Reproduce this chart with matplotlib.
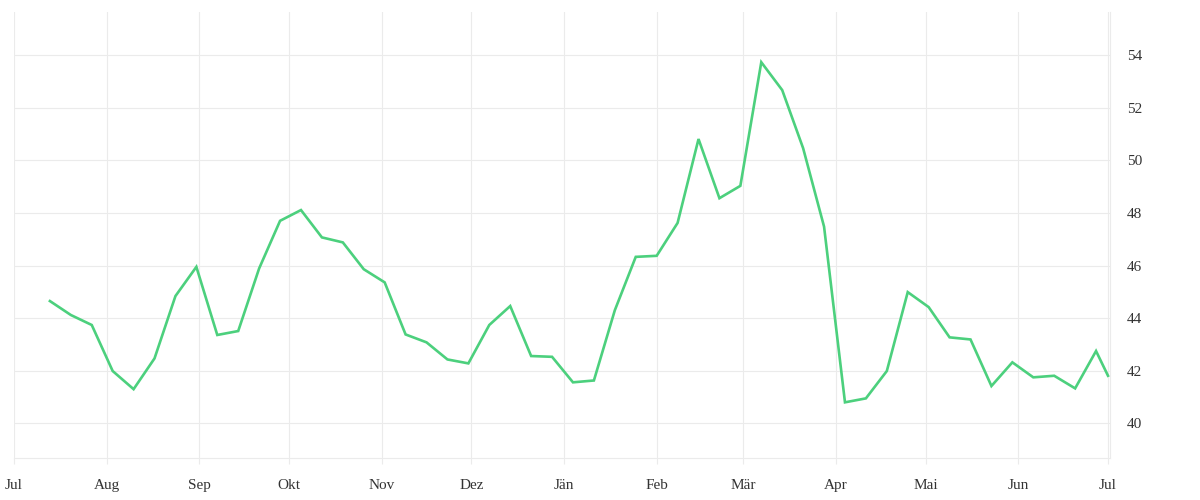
import datetime as dt
import matplotlib
matplotlib.use("Agg")
import matplotlib.pyplot as plt
import matplotlib.dates as mdates

# weekly values
start = dt.date(2023, 7, 13)
values = [44.65, 44.12, 43.74, 41.99, 41.30, 42.47, 44.84, 45.95, 43.36, 43.51,
          45.89, 47.70, 48.11, 47.07, 46.88, 45.86, 45.36, 43.38, 43.08, 42.43,
          42.28, 43.74, 44.46, 42.56, 42.53, 41.56, 41.63, 44.30, 46.33, 46.37,
          47.62, 50.81, 48.56, 49.03, 53.73, 52.67, 50.46, 47.48, 40.80, 40.95,
          41.99, 44.99, 44.42, 43.27, 43.19, 41.42, 42.32, 41.75, 41.81, 41.33,
          42.75]
last_date = dt.date(2024, 7, 1)
last_value = 41.81

dates = [start + dt.timedelta(days=7 * i) for i in range(len(values))] + [last_date]
series = values + [last_value]

month_labels = ["Jul", "Aug", "Sep", "Okt", "Nov", "Dez", "Jän",
                "Feb", "Mär", "Apr", "Mai", "Jun", "Jul"]
month_ticks = [dt.date(2023 + (6 + i) // 12, (6 + i) % 12 + 1, 1) for i in range(13)]
y_ticks = [40, 42, 44, 46, 48, 50, 52, 54]

plt.rcParams["font.family"] = ["Liberation Serif", "DejaVu Serif"]

fig = plt.figure(figsize=(12, 5), dpi=100)
ax = fig.add_axes([0.0117, 0.0833, 0.9133, 0.8917])

ax.plot(dates, series, color="#4cd07d", linewidth=1.9, solid_joinstyle="miter")

ax.set_xlim(dt.datetime(2023, 7, 1), dt.datetime(2024, 7, 1, 16))
ax.set_ylim(38.67, 55.62)

ax.set_xticks([mdates.date2num(d) for d in month_ticks])
ax.set_xticklabels(month_labels)
ax.set_yticks(y_ticks)
ax.yaxis.tick_right()

ax.grid(True, color="#ebebeb", linewidth=0.8)
ax.set_axisbelow(True)
for side in ["left", "top"]:
    ax.spines[side].set_visible(False)
for side in ["bottom", "right"]:
    ax.spines[side].set_color("#ebebeb")
    ax.spines[side].set_linewidth(0.8)

ax.tick_params(axis="x", length=4, color="#ebebeb", labelsize=11,
               labelcolor="#333333", pad=11)
ax.tick_params(axis="y", length=0, labelsize=11, labelcolor="#333333", pad=12)

fig.savefig("out.png", dpi=100, facecolor="white")
